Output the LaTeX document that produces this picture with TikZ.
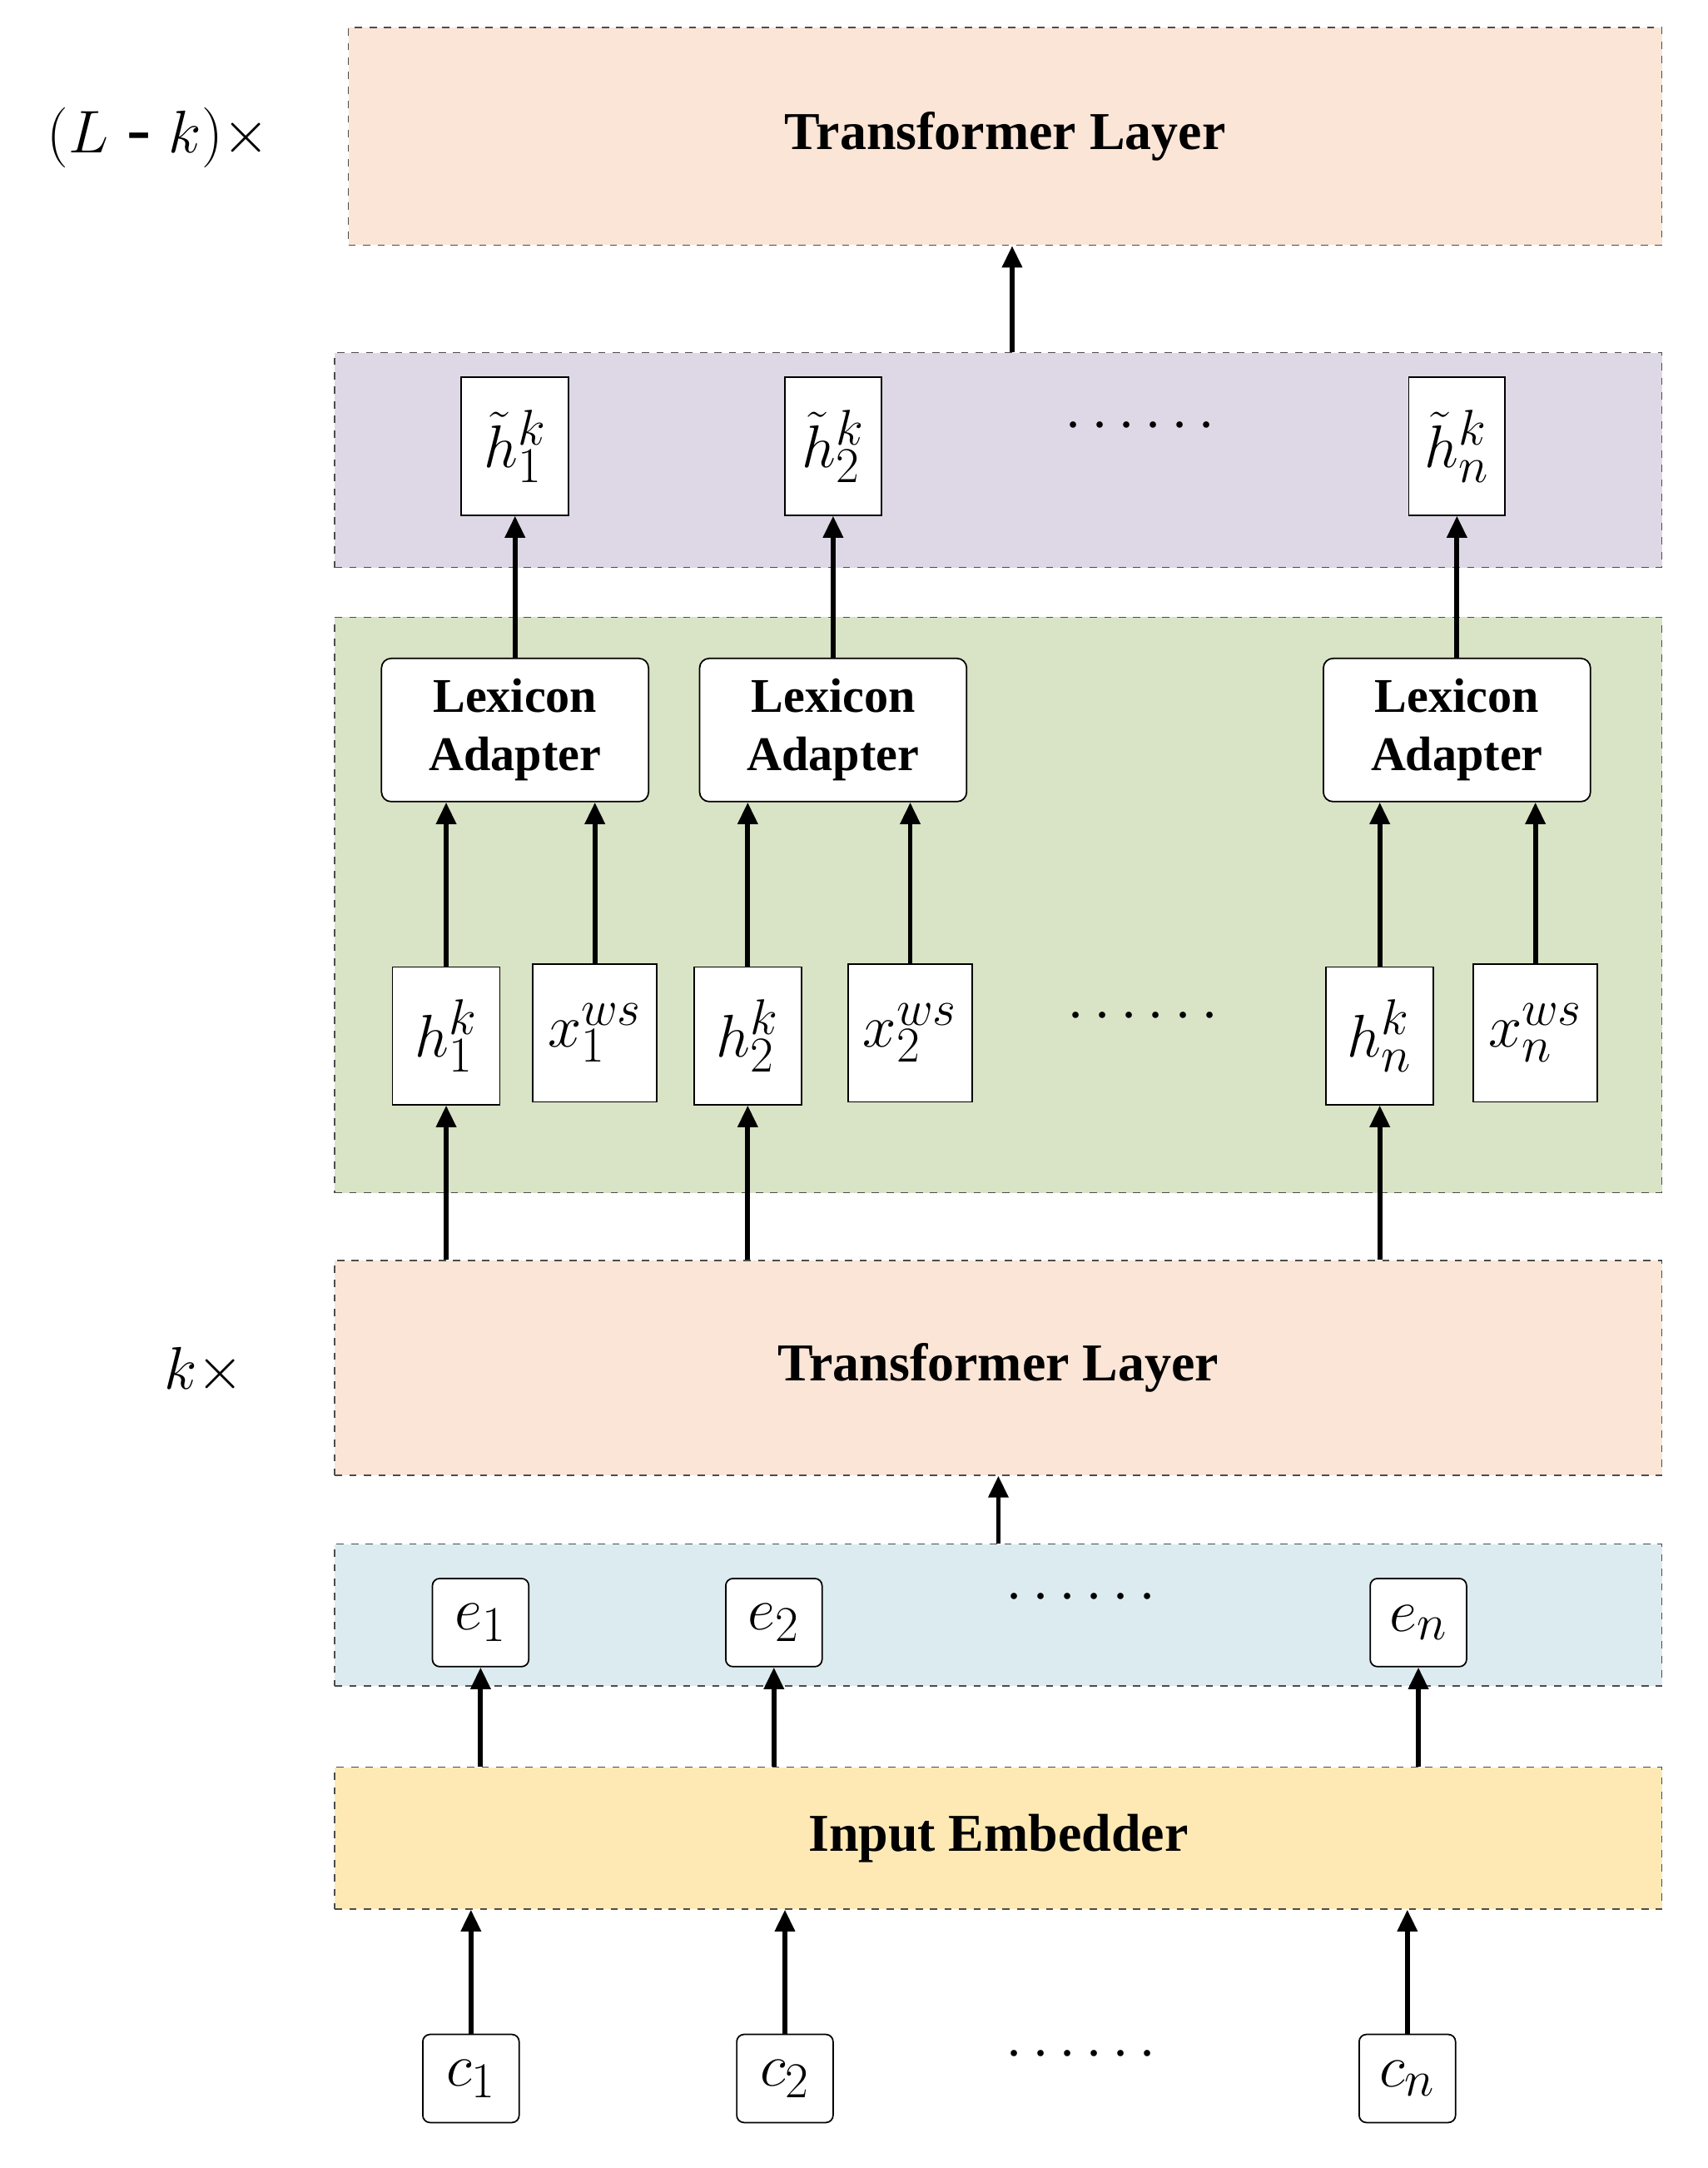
\documentclass[tikz,border=0pt]{standalone}
\usepackage{fontspec}
\setmainfont{Liberation Serif}
\usetikzlibrary{arrows.meta}
\definecolor{peach}{HTML}{FBE5D6}
\definecolor{lilac}{HTML}{DED8E6}
\definecolor{sage}{HTML}{D9E3C5}
\definecolor{icy}{HTML}{DCEBEF}
\definecolor{butter}{HTML}{FEE9B5}
\begin{document}
\begin{tikzpicture}[
    x=0.02cm, y=-0.02cm,
    layer/.style={rectangle, draw=black!70, dashed, line width=0.5pt, minimum width=19.28cm, minimum height=3.12cm, inner sep=0pt},
    title/.style={font=\fontsize{22}{26}\selectfont\bfseries},
    vec/.style={rectangle, draw, fill=white, line width=0.6pt, minimum width=1.56cm, minimum height=2cm, inner sep=0pt, font=\fontsize{32}{36}\selectfont},
    sym/.style={rectangle, draw, fill=white, rounded corners=3pt, line width=0.6pt, minimum width=1.4cm, minimum height=1.28cm, inner sep=0pt, font=\fontsize{30}{34}\selectfont},
    adapter/.style={rectangle, draw, fill=white, rounded corners=4pt, line width=0.6pt, minimum width=3.88cm, minimum height=2.08cm, align=center, font=\fontsize{20}{24}\selectfont\bfseries},
    arr/.style={-{Triangle[length=9pt,width=8pt]}, line width=2pt},
]
\useasboundingbox (0,0) rectangle (1240,1574);

% Schichten
\node[layer, fill=peach, minimum width=19.08cm, minimum height=3.16cm] (top) at (730,99) {};
\node[title] at (top.center) {Transformer Layer};
\node[layer, fill=lilac] (tilde) at (725,334) {};
\node[layer, fill=sage, minimum height=8.36cm] (lex) at (725,657) {};
\node[layer, fill=peach] (trans) at (725,993) {};
\node[title] at (trans.center) {Transformer Layer};
\node[layer, fill=icy, minimum height=2.06cm] (emb) at (725,1172.5) {};
\node[layer, fill=butter, minimum height=2.06cm] (embedder) at (725,1334.5) {};
\node[title] at (embedder.center) {Input Embedder};

\node[font=\fontsize{30}{34}\selectfont] at (115,100) {$(L$ - $k)\times$};
\node[font=\fontsize{30}{34}\selectfont] at (148,995) {$k\times$};

% Ausgaben
\node[vec] (t1) at (374,324) {$\tilde{h}_1^k$};
\node[vec, minimum width=1.4cm] (t2) at (605,324) {$\tilde{h}_2^k$};
\node[vec, minimum width=1.4cm] (tn) at (1058,324) {$\tilde{h}_n^k$};
\node[font=\fontsize{30}{34}\selectfont] at (828,310) {$\cdots\cdots$};

% Adapter
\node[adapter] (a1) at (374,530) {Lexicon\\Adapter};
\node[adapter] (a2) at (605,530) {Lexicon\\Adapter};
\node[adapter] (an) at (1058,530) {Lexicon\\Adapter};

% Eingaben der Adapter
\node[vec] (h1) at (324,752) {$h_1^k$};
\node[vec, minimum width=1.8cm] (x1) at (432,750) {$x_1^{ws}$};
\node[vec] (h2) at (543,752) {$h_2^k$};
\node[vec, minimum width=1.8cm] (x2) at (661,750) {$x_2^{ws}$};
\node[vec] (hn) at (1002,752) {$h_n^k$};
\node[vec, minimum width=1.8cm] (xn) at (1115,750) {$x_n^{ws}$};
\node[font=\fontsize{30}{34}\selectfont] at (830,738) {$\cdots\cdots$};

% Einbettungen
\node[sym] (e1) at (349,1178) {$e_1$};
\node[sym] (e2) at (562,1178) {$e_2$};
\node[sym] (en) at (1030,1178) {$e_n$};
\node[font=\fontsize{30}{34}\selectfont] at (785,1160) {$\cdots\cdots$};

% Zeichen
\node[sym] (c1) at (342,1509) {$c_1$};
\node[sym] (c2) at (570,1509) {$c_2$};
\node[sym] (cn) at (1022,1509) {$c_n$};
\node[font=\fontsize{30}{34}\selectfont] at (785,1492) {$\cdots\cdots$};

% Pfeile
\draw[arr] (tilde.north -| top) ++(5,0) coordinate (tq) -- (tq |- top.south);
\foreach \a/\t in {a1/t1,a2/t2,an/tn}
    \draw[arr] (\a.north -| \t) -- (\t.south);
\draw[arr] (h1.north) -- (h1.north |- a1.south);
\draw[arr] (x1.north) -- (x1.north |- a1.south);
\draw[arr] (h2.north) -- (h2.north |- a2.south);
\draw[arr] (x2.north) -- (x2.north |- a2.south);
\draw[arr] (hn.north) -- (hn.north |- an.south);
\draw[arr] (xn.north) -- (xn.north |- an.south);
\foreach \h in {h1,h2,hn}
    \draw[arr] (\h.south |- trans.north) -- (\h.south);
\draw[arr] (emb.north) -- (trans.south);
\foreach \e in {e1,e2,en}
    \draw[arr] (\e.south |- embedder.north) -- (\e.south);
\foreach \c in {c1,c2,cn}
    \draw[arr] (\c.north) -- (\c.north |- embedder.south);
\end{tikzpicture}
\end{document}
